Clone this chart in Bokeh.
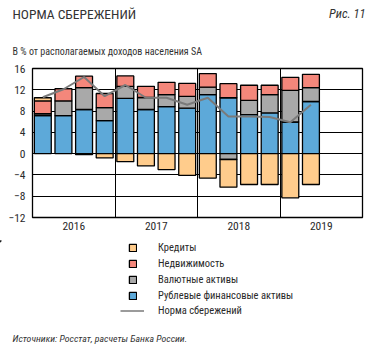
from bokeh.plotting import figure
from bokeh.layouts import column
from bokeh.models import FixedTicker, Label, Legend, LegendItem, Range1d
from bokeh.embed import file_html
from bokeh.resources import INLINE

# ---- data ----
quarters = ["2016Q1", "2016Q2", "2016Q3", "2016Q4",
            "2017Q1", "2017Q2", "2017Q3", "2017Q4",
            "2018Q1", "2018Q2", "2018Q3", "2018Q4",
            "2019Q1", "2019Q2"]
years = ["2016", "2017", "2018", "2019"]
rub_assets = [7.15, 7.15, 8.3, 6.2, 10.4, 8.3, 8.85, 8.55, 11.1, 10.5, 7.35, 7.65, 5.95, 9.8]
fx_assets = [0.35, 2.75, 4.1, 2.45, 2.25, 2.25, 2.25, 2.2, 1.4, -1.1, 2.65, 3.45, 5.95, 2.6]
real_estate = [2.4, 2.3, 2.15, 2.65, 1.95, 2.1, 2.3, 2.45, 2.55, 2.65, 2.85, 1.75, 2.45, 2.5]
credits = [0.6, 0.0, -0.2, -0.8, -1.5, -2.3, -3.0, -4.1, -4.6, -5.2, -5.8, -5.8, -8.3, -5.8]
saving_rate = [10.6, 12.1, 14.4, 10.8, 12.9, 10.5, 10.5, 9.2, 10.5, 7.0, 7.0, 6.9, 5.9, 9.2]
y_ticks = [-12, -8, -4, 0, 4, 8, 12, 16]
legend_labels = ["Кредиты", "Недвижимость", "Валютные активы",
                 "Рублевые финансовые активы", "Норма сбережений"]

FONT = "Roboto Condensed"
C_BLUE = "#5DA9D9"
C_GRAY = "#A9A9A9"
C_RED = "#F4877B"
C_ORANGE = "#FFCC8C"
C_LINE = "#7A7A7A"
C_TEXT = "#2A2A2A"

n = len(quarters)
xs = list(range(n))


def blank(h):
    f = figure(width=369, height=h, output_backend="svg", toolbar_location=None,
               x_range=Range1d(0, 369), y_range=Range1d(h, 0),
               x_axis_location=None, y_axis_location=None,
               min_border=0, min_border_left=0, min_border_right=0,
               min_border_top=0, min_border_bottom=0)
    f.outline_line_color = None
    f.xgrid.visible = False
    f.ygrid.visible = False
    return f


# ---- header ----
top = blank(60)
top.add_layout(Label(x=12, y=13, text="НОРМА СБЕРЕЖЕНИЙ", text_font=FONT,
                     text_font_size="13.5px", text_color="#333333", text_baseline="middle"))
top.add_layout(Label(x=365, y=13, text="Рис. 11", text_font=FONT,
                     text_font_size="12.5px", text_font_style="italic", text_color="#333333",
                     text_baseline="middle", text_align="right"))
top.add_layout(Label(x=12, y=51, text="В % от располагаемых доходов населения SA",
                     text_font=FONT, text_font_size="10px", text_color="#333333",
                     text_baseline="middle"))

# ---- main chart ----
p = figure(width=369, height=180, output_backend="svg", toolbar_location=None,
           x_range=Range1d(-0.5, 15.5), y_range=Range1d(-12, 16),
           min_border_left=32, min_border_right=7, min_border_top=8,
           min_border_bottom=23)
p.outline_line_color = "black"
p.outline_line_width = 1.3

p.xaxis.ticker = FixedTicker(ticks=[1.5, 5.5, 9.5, 13.5], minor_ticks=[])
p.xaxis.major_label_overrides = {1.5: years[0], 5.5: years[1], 9.5: years[2], 13.5: years[3]}
p.yaxis.ticker = FixedTicker(ticks=y_ticks, minor_ticks=[])
for ax in (p.xaxis[0], p.yaxis[0]):
    ax.axis_line_color = None
    ax.major_tick_line_color = None
    ax.minor_tick_line_color = None
    ax.major_tick_out = 0
    ax.major_tick_in = 0
    ax.minor_tick_out = 0
    ax.minor_tick_in = 0
    ax.axis_label = None
    ax.major_label_text_font = FONT
    ax.major_label_text_font_size = "11.5px"
    ax.major_label_text_color = C_TEXT
p.xaxis.major_label_standoff = 4
p.yaxis.major_label_standoff = 7

p.ygrid.ticker = FixedTicker(ticks=y_ticks)
p.ygrid.grid_line_color = "black"
p.ygrid.grid_line_width = 1
p.xgrid.ticker = FixedTicker(ticks=[3.5, 7.5, 11.5])
p.xgrid.grid_line_color = "black"
p.xgrid.grid_line_width = 1

pos_base = [0.0] * n
neg_base = [0.0] * n


def stack(vals):
    bottoms, tops = [], []
    for i, v in enumerate(vals):
        if v >= 0:
            b = pos_base[i]
            t = b + v
            pos_base[i] = t
        else:
            b = neg_base[i]
            t = b + v
            neg_base[i] = t
        bottoms.append(b)
        tops.append(t)
    return bottoms, tops


series = [(rub_assets, C_BLUE), (fx_assets, C_GRAY), (real_estate, C_RED), (credits, C_ORANGE)]
for vals, col in series:
    b, t = stack(vals)
    p.vbar(x=xs, bottom=b, top=t, width=0.82, fill_color=col,
           line_color="black", line_width=1.3)
p.line(xs, saving_rate, line_color=C_LINE, line_width=2)

# ---- footer with legend ----
bot = blank(111)
sw = {}
for key, col in [("cr", C_ORANGE), ("re", C_RED), ("fx", C_GRAY), ("rub", C_BLUE)]:
    sw[key] = bot.vbar(x=[-1000], top=[1], bottom=[0], width=1, fill_color=col,
                       line_color="black", line_width=1.3)
ln = bot.line([-1000, -999], [0, 0], line_color=C_LINE, line_width=1.5)

common = dict(padding=0, margin=0, spacing=3, label_height=9, glyph_height=9,
              label_text_font=FONT, label_text_font_size="10.5px",
              label_text_color=C_TEXT, background_fill_alpha=0, border_line_alpha=0)
leg_a = Legend(items=[LegendItem(label=legend_labels[0], renderers=[sw["cr"]]),
                      LegendItem(label=legend_labels[1], renderers=[sw["re"]]),
                      LegendItem(label=legend_labels[2], renderers=[sw["fx"]]),
                      LegendItem(label=legend_labels[3], renderers=[sw["rub"]])],
               location=(128, 49), glyph_width=9, label_standoff=21, **common)
leg_b = Legend(items=[LegendItem(label=legend_labels[4], renderers=[ln])],
               location=(120, 34), glyph_width=24, label_standoff=14, **common)
bot.add_layout(leg_a)
bot.add_layout(leg_b)
bot.add_layout(Label(x=12, y=98, text="Источники: Росстат, расчеты Банка России.",
                     text_font=FONT, text_font_size="9.8px", text_font_style="italic",
                     text_color="#333333", text_baseline="middle"))

layout = column(column(top), p, column(bot), spacing=0)
open("out.html", "w").write(file_html(layout, INLINE))
